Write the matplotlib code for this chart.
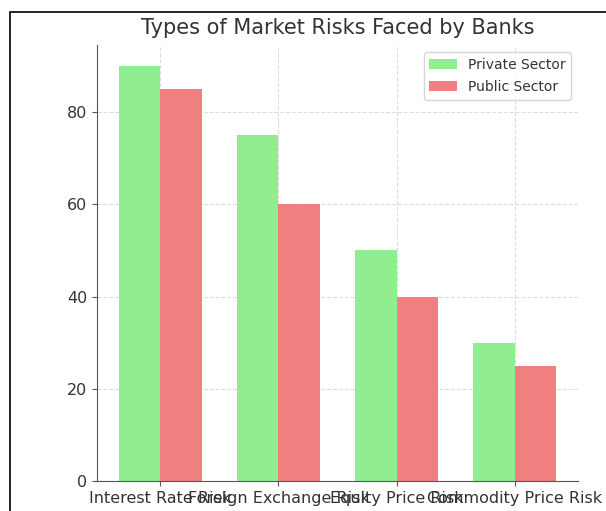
import matplotlib.pyplot as plt
import numpy as np
from matplotlib.patches import Rectangle

categories = ['Interest Rate Risk', 'Foreign Exchange Risk', 'Equity Price Risk', 'Commodity Price Risk']
private_sector = [90, 75, 50, 30]
public_sector = [85, 60, 40, 25]

x = np.arange(len(categories))
width = 0.35

fig = plt.figure(figsize=(6.06, 5.11), dpi=100)
ax = fig.add_axes([0.160, 0.0587, 0.794, 0.853])

ax.bar(x - width / 2, private_sector, width, label='Private Sector', color='lightgreen')
ax.bar(x + width / 2, public_sector, width, label='Public Sector', color='lightcoral')

ax.set_title('Types of Market Risks Faced by Banks', fontsize=15, color='#333333', pad=8)
ax.set_xticks(x)
ax.set_xticklabels(categories, fontsize=11.5, color='#333333')
ax.tick_params(axis='y', labelsize=11.5, labelcolor='#333333')
ax.tick_params(colors='#555555', which='both')
ax.tick_params(axis='x', labelcolor='#333333')
ax.tick_params(axis='y', labelcolor='#333333')
ax.set_yticks([0, 20, 40, 60, 80])
ax.grid(True, linestyle='--', color='#dddddd', linewidth=0.8)
ax.set_axisbelow(True)
ax.spines['top'].set_visible(False)
ax.spines['right'].set_visible(False)
ax.spines['left'].set_color('#555555')
ax.spines['bottom'].set_color('#555555')
leg = ax.legend(loc='upper right', fontsize=10, labelspacing=0.6)
for t in leg.get_texts():
    t.set_color('#333333')

# screenshot frame
fig.patches.append(Rectangle((10 / 606, -0.1), 1.2, 1 - 12 / 511 + 0.1,
                             transform=fig.transFigure, fill=False,
                             edgecolor='black', linewidth=1.2))

fig.savefig('out.png', dpi=100)
